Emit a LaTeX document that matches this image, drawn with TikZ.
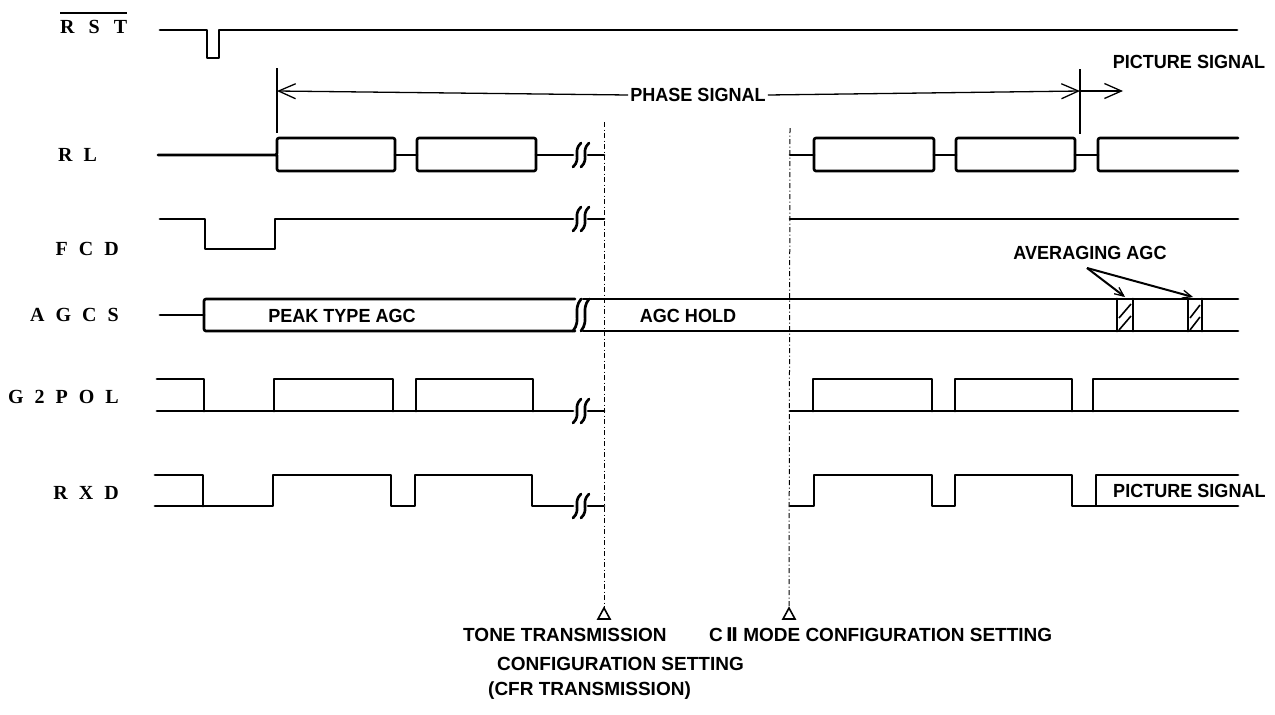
\documentclass[tikz,border=0pt]{standalone}
\usepackage{fontspec}
\usetikzlibrary{arrows.meta}
\newfontfamily\tfont[FakeStretch=0.95]{Liberation Sans}
\newfontfamily\bfont[FakeStretch=1.0]{Liberation Sans}
\newfontfamily\lfont{Liberation Serif}
\newfontfamily\dvfont[FakeStretch=0.95]{DejaVu Sans}
\newcommand{\ls}{\hspace{11pt}}
\tikzset{
  sig/.style={line width=2.7pt, line join=round, line cap=round},
  thin/.style={line width=1.3pt},
  dotv/.style={line width=1pt, dash pattern=on 5pt off 2.5pt on 1pt off 2.5pt},
  txt/.style={font=\tfont\bfseries\fontsize{19}{21}\selectfont, inner sep=0pt},
  btxt/.style={font=\bfont\bfseries\fontsize{19}{21}\selectfont, inner sep=0pt, anchor=west},
  lbl/.style={font=\lfont\bfseries\fontsize{20}{22}\selectfont, inner sep=0pt},
  barb/.style={-{Straight Barb[length=17pt,width=15pt,line width=1.3pt]}},
  smallbarb/.style={-{Straight Barb[length=9pt,width=8pt,line width=1.3pt]}},
}
\newcommand{\brk}[3]{% x, y, half height
  \draw[sig] (#1+4,#2-#3) .. controls (#1-5,#2-#3*0.3) and (#1+5,#2+#3*0.3) .. (#1-4,#2+#3);}
\begin{document}
\begin{tikzpicture}[x=1pt,y=-1pt]
\useasboundingbox (0,0) rectangle (1275,715);
\fill[white] (0,0) rectangle (1275,715);
% labels
\node[lbl,anchor=west] (lRST) at (60,27) {R\hspace{14pt}S\hspace{14pt}T};
\draw[line width=1.3pt] ([yshift=7pt]lRST.north west) -- ([yshift=7pt]lRST.north east);
\node[lbl,anchor=west] (lRL) at (58,155) {R\ls L};
\node[lbl,anchor=east] (lFCD) at (119,249) {F\ls C\ls D};
\node[lbl,anchor=east] (lAGCS) at (119,315) {A\ls G\ls C\ls S};
\node[lbl,anchor=east] (lG2POL) at (119,397) {G\ls 2\ls P\ls O\ls L};
\node[lbl,anchor=east] (lRXD) at (119,493) {R\ls X\ls D};
% RST
\draw[sig] (160,30) -- (207,30) -- (207,58) -- (219,58) -- (219,30) -- (1237,30);
% phase signal dimension
\coordinate (pL) at (277,91);
\coordinate (pR) at (1080,91);
\draw[thin] (277,68) -- (277,133);
\draw[thin] (1080,69) -- (1080,134);
\node[txt] (phase) at (698,95) {PHASE SIGNAL};
\draw[thin,barb] ([xshift=-2pt]phase.west) -- (pL);
\draw[thin,barb] ([xshift=2pt]phase.east) -- (pR);
\coordinate (pP) at (1123,91);
\draw[thin,barb] (pR) -- (pP);
\node[txt] (pic1) at (1189,62) {PICTURE SIGNAL};
% RL
\draw[sig,rounded corners=2pt] (158,155) -- (277,155) -- (277,138) -- (395,138) -- (395,171) -- (277,171) -- (277,155);
\draw[sig] (395,155) -- (417,155);
\draw[sig,rounded corners=2pt] (417,138) rectangle (536,171);
\draw[sig] (536,155) -- (573,155);
\brk{577}{155}{12}\brk{585}{155}{12}
\draw[sig] (588,155) -- (604,155);
\draw[sig] (790,155) -- (814,155);
\draw[sig,rounded corners=2pt] (814,138) rectangle (934,171);
\draw[sig] (934,155) -- (956,155);
\draw[sig,rounded corners=2pt] (956,138) rectangle (1075,171);
\draw[sig] (1075,155) -- (1098,155);
\draw[sig,rounded corners=2pt] (1238,138) -- (1098,138) -- (1098,171) -- (1238,171);
% FCD
\draw[sig] (160,219) -- (205,219) -- (205,249) -- (275,249) -- (275,219) -- (573,219);
\brk{577}{219}{12}\brk{585}{219}{12}
\draw[sig] (588,219) -- (604,219);
\draw[sig] (790,219) -- (1238,219);
% AGCS
\draw[sig] (160,315) -- (204,315);
\draw[sig,rounded corners=2pt] (575,299) -- (204,299) -- (204,331) -- (575,331);
\brk{577}{315}{16}\brk{585}{315}{16}
\draw[sig] (583,299) -- (1238,299);
\draw[sig] (583,331) -- (1238,331);
\node[txt] (peak) at (342,316) {PEAK TYPE AGC};
\node[txt] (hold) at (688,316) {AGC HOLD};
% hatched averaging windows
\draw[sig] (1117,299) -- (1117,331) (1133,299) -- (1133,331);
\draw[sig] (1188,299) -- (1188,331) (1202,299) -- (1202,331);
\draw[line width=1.6pt] (1119,318) -- (1131,304) (1119,330) -- (1131,316);
\draw[line width=1.6pt] (1190,318) -- (1200,305) (1190,330) -- (1200,317);
\node[txt] (avg) at (1090,253) {AVERAGING AGC};
\coordinate (avgP) at (1087,268);
\coordinate (avgA) at (1125,297);
\coordinate (avgB) at (1193,297);
\draw[line width=2pt,smallbarb] (avgP) -- (avgA);
\draw[line width=2pt,smallbarb] (avgP) -- (avgB);
% G2POL
\draw[sig] (157,379) -- (204,379) -- (204,411);
\draw[sig] (157,411) -- (573,411);
\draw[sig] (274,411) -- (274,379) -- (393,379) -- (393,411);
\draw[sig] (416,411) -- (416,379) -- (533,379) -- (533,411);
\brk{577}{411}{12}\brk{585}{411}{12}
\draw[sig] (588,411) -- (604,411);
\draw[sig] (790,411) -- (1238,411);
\draw[sig] (813,411) -- (813,379) -- (932,379) -- (932,411);
\draw[sig] (955,411) -- (955,379) -- (1072,379) -- (1072,411);
\draw[sig] (1093,411) -- (1093,379) -- (1238,379);
% RXD
\draw[sig] (155,475) -- (203,475) -- (203,506);
\draw[sig] (155,506) -- (273,506) -- (273,475) -- (391,475) -- (391,506) -- (415,506) -- (415,475) -- (532,475) -- (532,506) -- (573,506);
\brk{577}{506}{12}\brk{585}{506}{12}
\draw[sig] (588,506) -- (604,506);
\draw[sig] (790,506) -- (814,506) -- (814,475) -- (932,475) -- (932,506) -- (955,506) -- (955,475) -- (1072,475) -- (1072,506) -- (1096,506) -- (1096,475) -- (1238,475);
\draw[sig] (1096,506) -- (1238,506);
\node[txt,anchor=west] (pic2) at (1113,491) {PICTURE SIGNAL};
% event markers
\coordinate (t1) at (604,608);
\coordinate (t2) at (789,608);
\draw[dotv] (604,122) -- (t1);
\draw[dotv] (790,128) -- (t2);
\draw[line width=1.6pt, line join=miter] (t1) -- ++(6,11) -- ++(-12,0) -- cycle;
\draw[line width=1.6pt, line join=miter] (t2) -- ++(6,11) -- ++(-12,0) -- cycle;
\node[btxt] (tone) at (463,635) {TONE TRANSMISSION};
\node[btxt] (conf) at (497,664) {CONFIGURATION SETTING};
\node[btxt] (cfr) at (488,691) {(CFR TRANSMISSION)};
\node[btxt] (cii) at (709,635) {C\,{\dvfont\bfseries Ⅱ} MODE CONFIGURATION SETTING};
\end{tikzpicture}
\end{document}
